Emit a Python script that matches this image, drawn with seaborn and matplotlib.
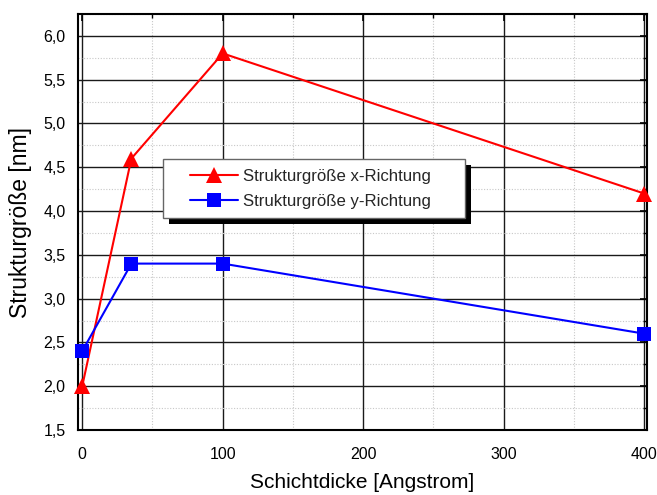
import matplotlib
matplotlib.use("Agg")
import matplotlib.pyplot as plt
from matplotlib.patches import Rectangle
from matplotlib.ticker import FuncFormatter, MultipleLocator
import pandas as pd
import seaborn as sns

# Schichtdicke in Angstrom
dicke = [0, 35, 100, 400]
# Strukturgröße in nm
groesse_x = [2.0, 4.6, 5.8, 4.2]
groesse_y = [2.4, 3.4, 3.4, 2.6]
label_x = "Strukturgröße x-Richtung"
label_y = "Strukturgröße y-Richtung"

sns.set_theme(style="white")
plt.rcParams["font.family"] = ["Liberation Sans", "DejaVu Sans"]

W, H = 657, 495
fig = plt.figure(figsize=(W / 100, H / 100), dpi=100)
ax = fig.add_axes([78 / W, 1 - 430 / H, 569 / W, 416 / H])

df_x = pd.DataFrame({"d": dicke, "g": groesse_x})
df_y = pd.DataFrame({"d": dicke, "g": groesse_y})

sns.lineplot(data=df_x, x="d", y="g", ax=ax, color="#ff0000", marker="^",
             markersize=11, markeredgewidth=0, linewidth=1.5, label=label_x,
             zorder=5, clip_on=False)
sns.lineplot(data=df_y, x="d", y="g", ax=ax, color="#0000ff", marker="s",
             markersize=9.5, markeredgewidth=0, linewidth=1.5, label=label_y,
             zorder=5, clip_on=False)

ax.set_xlim(-3, 402)
ax.set_ylim(1.5, 6.25)
ax.xaxis.set_major_locator(MultipleLocator(100))
ax.xaxis.set_minor_locator(MultipleLocator(50))
ax.yaxis.set_major_locator(MultipleLocator(0.5))
ax.yaxis.set_minor_locator(MultipleLocator(0.25))
ax.yaxis.set_major_formatter(FuncFormatter(lambda v, p: f"{v:.1f}".replace(".", ",")))

ax.grid(which="major", color="#1a1a1a", linewidth=1.0, linestyle="-")
ax.grid(which="minor", color="#c8c8c8", linewidth=0.8, linestyle=(0, (1, 1.5)))
ax.set_axisbelow(True)

for s in ax.spines.values():
    s.set_color("black")
    s.set_linewidth(1.5)

ax.tick_params(axis="both", which="major", direction="out", length=5, width=1.2,
               labelsize=11.5, color="black", labelcolor="black")
ax.tick_params(axis="x", which="major", pad=7)
ax.tick_params(axis="y", which="major", pad=4)
ax.tick_params(axis="both", which="minor", direction="out", length=3, width=1.0,
               color="black")
ax.tick_params(top=True, right=True, which="both")
# ticks on the top and right edges point inwards
for tick in ax.xaxis.get_major_ticks() + ax.xaxis.get_minor_ticks():
    tick.tick2line.set_marker(3)
for tick in ax.yaxis.get_major_ticks() + ax.yaxis.get_minor_ticks():
    tick.tick2line.set_marker(0)

ax.set_xlabel("Schichtdicke [Angstrom]", fontsize=15, labelpad=8, color="black")
ax.set_ylabel("Strukturgröße [nm]", fontsize=16.5, labelpad=8, color="black")

# legend box with a solid drop shadow (figure pixel coordinates)
bx0, by0, bx1, by1 = 163, 159, 465, 218
sh = 6
to_fig = lambda x, y: (x / W, 1 - y / H)
fig.patches.append(Rectangle(to_fig(bx0 + sh, by1 + sh), (bx1 - bx0) / W, (by1 - by0) / H,
                             transform=fig.transFigure, facecolor="black",
                             edgecolor="none", zorder=8))
fig.patches.append(Rectangle(to_fig(bx0, by1), (bx1 - bx0) / W, (by1 - by0) / H,
                             transform=fig.transFigure, facecolor="white",
                             edgecolor="#666666", linewidth=1.0, zorder=9))

leg = ax.legend(loc="center left", bbox_to_anchor=to_fig(190, (by0 + by1) / 2 + 0.5),
                bbox_transform=fig.transFigure, fontsize=12.1, frameon=False,
                borderpad=0, handlelength=2.85, handletextpad=0.3,
                labelspacing=0.6, borderaxespad=0)
leg.set_zorder(10)
leg.remove()
fig.legends.append(leg)
leg.set_figure(fig)

fig.savefig("out.png", dpi=100)
